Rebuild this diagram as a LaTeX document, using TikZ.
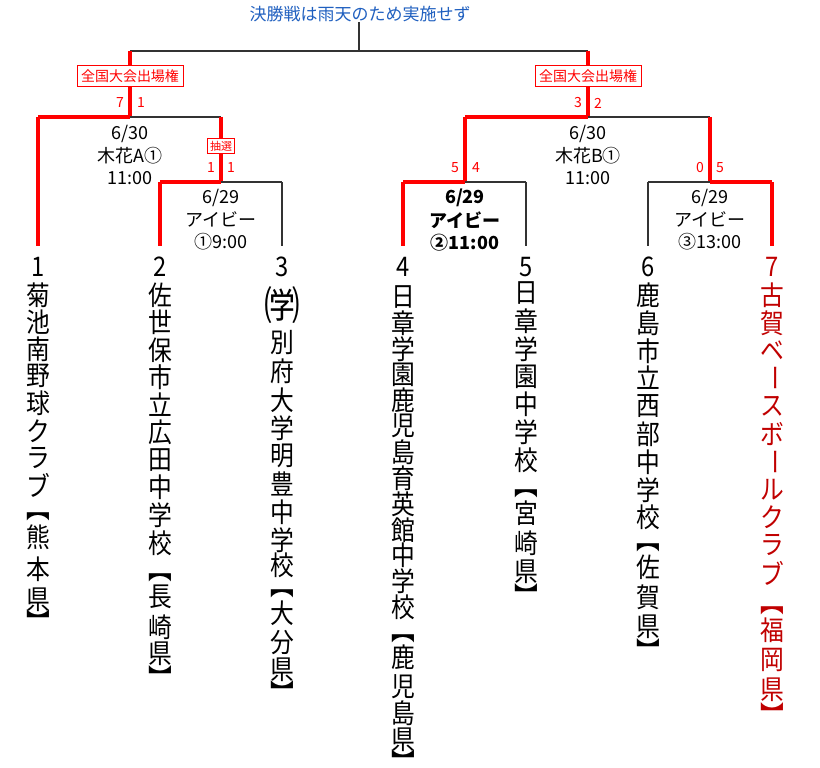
\documentclass[tikz,border=0pt]{standalone}
\usepackage{fontspec}
\setmainfont{Noto Sans CJK JP}
\definecolor{rd}{HTML}{FF0000}
\definecolor{drd}{HTML}{C00000}
\definecolor{bl}{HTML}{1F5FBF}
\begin{document}
\begin{tikzpicture}[x=1pt,y=-1pt,
  win/.style={draw=rd,line width=3.5pt},
  lose/.style={draw=black!80,line width=1.2pt},
  sc/.style={text=rd,font=\fontsize{14}{14}\selectfont,inner sep=0pt},
  rbox/.style={draw=rd,fill=white,text=rd,font=\fontsize{14}{14}\selectfont,inner sep=4pt,line width=0.8pt},
  info/.style={font=\fontsize{18}{18}\selectfont,inner sep=0pt,align=center},
  ch/.style={font=\fontsize{27}{27}\selectfont,inner sep=0pt,xscale=0.88}]
\useasboundingbox (0,0) rectangle (820,768);
\node[text=bl,font=\fontsize{17}{17}\selectfont,inner sep=0pt] (title) at (360,14) {決勝戦は雨天のため実施せず};
\coordinate (tc) at (359,51);
\coordinate (tl) at (130,51);
\coordinate (tr) at (588,51);
\coordinate (ml) at (130,117); \coordinate (mr) at (588,117);
\coordinate (a1) at (38,117); \coordinate (a2) at (221,117);
\coordinate (b1) at (465,117); \coordinate (b2) at (710,117);
\coordinate (c1) at (160,182); \coordinate (c2) at (282,182); \coordinate (cm) at (221,182);
\coordinate (d1) at (403,182); \coordinate (d2) at (526,182);
\coordinate (e1) at (648,182); \coordinate (e2) at (772,182);
\foreach \n/\x in {1/38,2/160,3/282,4/403,5/526,6/648,7/772}{\coordinate (t\n) at (\x,246);}
\draw[lose] (title.south-|tc) -- (tc);
\draw[lose] (tl) -- (tr);
\draw[win] (tl) -- (ml); \draw[win] (tr) -- (mr);
\draw[win] (a1|-ml) -- (ml); \draw[lose] (ml) -- (a2);
\draw[win] (a1) -- (t1); \draw[win] (a2) -- (cm);
\draw[win] (c1) -- (cm); \draw[lose] (cm) -- (c2);
\draw[win] (c1) -- (t2); \draw[lose] (c2) -- (t3);
\draw[win] (b1) -- (mr); \draw[lose] (mr) -- (b2);
\draw[win] (b1) -- (b1|-d1); \draw[win] (b2) -- (b2|-e1);
\draw[win] (d1) -- (b1|-d1); \draw[lose] (b1|-d1) -- (d2);
\draw[win] (d1) -- (t4); \draw[lose] (d2) -- (t5);
\draw[lose] (e1) -- (b2|-e1); \draw[win] (b2|-e1) -- (e2);
\draw[lose] (e1) -- (t6); \draw[win] (e2) -- (t7);
\node[rbox] (bx1) at (130,76) {全国大会出場権};
\node[rbox] (bx2) at (588,76) {全国大会出場権};
\node[rbox,inner sep=2.5pt,font=\fontsize{11}{11}\selectfont] (bx3) at (221,146) {抽選};
\node[sc] (s1) at (120,103) {7}; \node[sc] (s2) at (141,103) {1};
\node[sc] (s3) at (211,168) {1}; \node[sc] (s4) at (231,168) {1};
\node[sc] (s5) at (578,103) {3}; \node[sc] (s6) at (598,103) {2};
\node[sc] (s7) at (455,168) {5}; \node[sc] (s8) at (476,168) {4};
\node[sc] (s9) at (700,168) {0}; \node[sc] (s10) at (720,168) {5};
\node[info] (i1) at (130,155) {6/30\\[4pt]木花A①\\[4pt]11:00};
\node[info] (i2) at (588,155) {6/30\\[4pt]木花B①\\[4pt]11:00};
\node[info] (i3) at (221,220) {6/29\\[4pt]アイビー\\[4pt]①9:00};
\node[info,font=\fontsize{18}{18}\selectfont\bfseries] (i4) at (465,220) {6/29\\[4pt]アイビー\\[4pt]②11:00};
\node[info] (i5) at (710,220) {6/29\\[4pt]アイビー\\[4pt]③13:00};
\newcommand{\teamcol}[3]{%
  \foreach \yy/\cc/\rr in {#3}{\node[ch,text=#2,rotate=\rr] at (#1,\yy) {\cc};}}
\teamcol{38}{black}{267/1/0,295/菊/0,322/池/0,349/南/0,376/野/0,403/球/0,431/ク/0,458/ラ/0,485/ブ/0,517/︻/0,537/熊/0,569/本/0,600/県/0,621/︼/0}
\teamcol{160}{black}{267/2/0,295/佐/0,322/世/0,350/保/0,377/市/0,405/立/0,432/広/0,460/田/0,487/中/0,515/学/0,543/校/0,578/︻/0,597/長/0,627/崎/0,654/県/0,677/︼/0}
\node[ch,scale=1.5] (paren) at (282,305) {㈻};
\teamcol{282}{black}{267/3/0,343/別/0,371/府/0,400/大/0,428/学/0,456/明/0,484/豊/0,512/中/0,540/学/0,565/校/0,594/︻/0,613/大/0,643/分/0,670/県/0,692/︼/0}
\teamcol{403}{black}{267/4/0,297/日/0,323/章/0,349/学/0,375/園/0,400/鹿/0,426/児/0,452/島/0,478/育/0,504/英/0,530/館/0,555/中/0,581/学/0,607/校/0,639/︻/0,657/鹿/0,687/児/0,713/島/0,740/県/0,761/︼/0}
\teamcol{526}{black}{267/5/0,293/日/0,321/章/0,349/学/0,377/園/0,404/中/0,432/学/0,460/校/0,494/︻/0,513/宮/0,543/崎/0,572/県/0,595/︼/0}
\teamcol{648}{black}{267/6/0,295/鹿/0,323/島/0,351/市/0,378/立/0,406/西/0,434/部/0,462/中/0,490/学/0,517/校/0,548/︻/0,567/佐/0,597/賀/0,627/県/0,650/︼/0}
\teamcol{772}{drd}{267/7/0,295/古/0,323/賀/0,351/ベ/0,378/ー/-90,406/ス/0,434/ボ/0,462/ー/-90,490/ル/0,517/ク/0,545/ラ/0,573/ブ/0,611/︻/0,630/福/0,660/岡/0,690/県/0,714/︼/0}
\end{tikzpicture}
\end{document}
